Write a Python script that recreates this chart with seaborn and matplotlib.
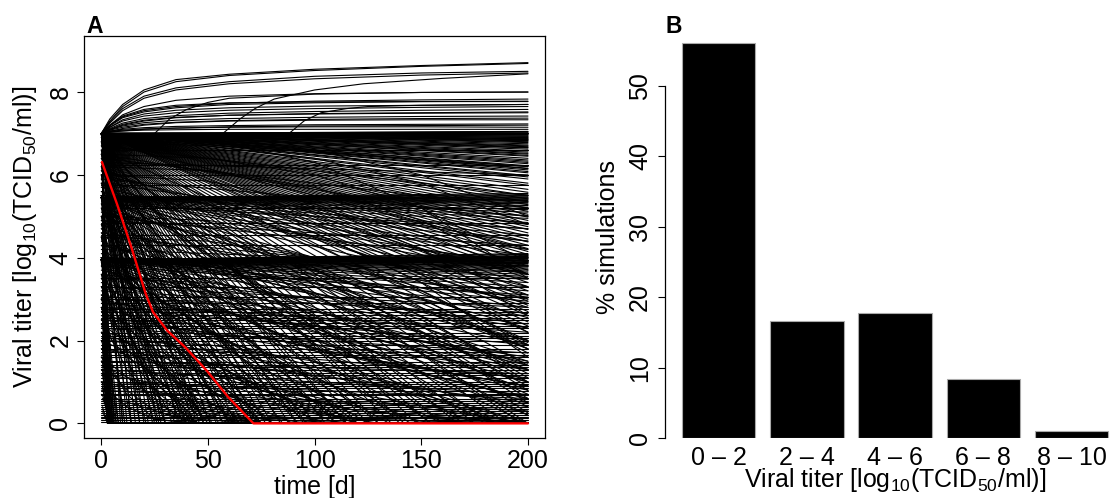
import matplotlib
matplotlib.use('Agg')
import matplotlib.pyplot as plt
import seaborn as sns
import pandas as pd

# ---------------- panel A: simulated titer courses ----------------
# courses that rise above the starting titer of 7, sampled at rise_t
rise_t = [0, 4, 10, 20, 35, 60, 100, 150, 200]
rise_y = [
    [7, 7.35, 7.70, 8.05, 8.30, 8.43, 8.55, 8.64, 8.71],
    [7, 7.30, 7.65, 8.00, 8.25, 8.40, 8.52, 8.62, 8.69],
    [7, 7.28, 7.60, 7.90, 8.10, 8.25, 8.38, 8.46, 8.50],
    [7, 7.25, 7.55, 7.85, 8.05, 8.20, 8.32, 8.41, 8.46],
    [7, 7.20, 7.45, 7.65, 7.80, 7.90, 7.96, 7.99, 8.00],
    [7, 7.20, 7.40, 7.55, 7.65, 7.73, 7.78, 7.81, 7.83],
    [7, 7.18, 7.38, 7.52, 7.62, 7.70, 7.74, 7.77, 7.78],
    [7, 7.20, 7.42, 7.58, 7.68, 7.74, 7.76, 7.77, 7.77],
    [7, 7.15, 7.33, 7.47, 7.56, 7.62, 7.66, 7.68, 7.70],
    [7, 7.15, 7.30, 7.42, 7.50, 7.56, 7.60, 7.63, 7.65],
    [7, 7.12, 7.25, 7.36, 7.43, 7.49, 7.53, 7.56, 7.58],
    [7, 7.08, 7.20, 7.30, 7.38, 7.44, 7.48, 7.50, 7.52],
    [7, 7.10, 7.22, 7.32, 7.39, 7.44, 7.47, 7.49, 7.50],
    [7, 7.10, 7.18, 7.26, 7.32, 7.36, 7.39, 7.41, 7.42],
    [7, 7.08, 7.15, 7.22, 7.27, 7.31, 7.34, 7.36, 7.37],
    [7, 7.05, 7.12, 7.20, 7.26, 7.30, 7.32, 7.33, 7.33],
    [7, 7.06, 7.10, 7.14, 7.17, 7.19, 7.21, 7.22, 7.23],
    [7, 7.03, 7.06, 7.10, 7.13, 7.16, 7.18, 7.19, 7.20],
    [7, 7.05, 7.08, 7.11, 7.13, 7.15, 7.16, 7.16, 7.15],
    [7, 7.04, 7.06, 7.08, 7.09, 7.10, 7.10, 7.10, 7.10],
]
# courses that stay at 7 for a while and then rise
late_rise_t = [
    [0, 25, 32, 40, 50, 60, 100, 150, 200],
    [0, 57, 65, 72, 81, 100, 123, 160, 200],
    [0, 88, 95, 103, 115, 125, 150, 200],
]
late_rise_y = [
    [7, 7.0, 7.35, 7.58, 7.75, 7.85, 7.95, 7.99, 8.00],
    [7, 7.0, 7.35, 7.60, 7.83, 8.05, 8.20, 8.33, 8.44],
    [7, 7.0, 7.30, 7.50, 7.60, 7.65, 7.68, 7.70],
]

# straight courses from a common start titer to the titer at day 200
top_start = 7.0
flat7_end = [7.05, 7.04, 7.03, 7.01, 7.00, 6.99, 6.98, 6.97, 6.96, 6.94, 6.93, 6.91, 6.90,
             6.88, 6.87, 6.85, 6.83, 6.82, 6.80, 6.78, 6.75, 6.72, 6.70, 6.68, 6.66, 6.62,
             6.58, 6.55, 6.52, 6.50, 6.47, 6.40, 6.36, 6.33, 6.30, 6.27, 6.22, 6.20, 6.16,
             6.12, 6.08, 6.05, 5.98]
fan7_end = [6.85, 6.65, 6.45, 6.15, 5.95, 5.90, 5.80, 5.75, 5.65, 5.58, 5.50, 5.42, 5.35, 5.28,
            5.20, 5.12, 5.05, 4.98, 4.90, 4.82, 4.75, 4.68, 4.60, 4.52, 4.45, 4.38, 4.30, 4.22,
            4.15, 4.08, 4.00, 3.90, 3.80, 3.70, 3.60, 3.50, 3.40, 3.30, 3.20, 3.10, 2.95, 2.85,
            2.70, 2.60, 2.45, 2.35, 2.20, 1.95, 1.70, 1.40, 1.10, 0.80, 0.50, 0.25]
# day at which a course starting at 7 reaches 0
fan7_zero = [12, 14, 16, 18, 20, 22, 24, 26, 28, 30, 33, 36, 38, 41, 43, 46, 48, 51, 54, 57,
             60, 63, 66, 70, 73, 77, 80, 84, 88, 92, 96, 100, 105, 110, 115, 120, 125, 130,
             136, 142, 148, 154, 160, 167, 175, 182, 190, 197]

mid_band_start = 5.45
band55_end = [5.55, 5.52, 5.50, 5.47, 5.46, 5.44, 5.42, 5.40, 5.38, 5.36, 5.33, 5.30, 5.26,
              5.22, 5.16, 5.10, 5.02, 4.95, 4.85, 4.70, 4.55, 4.40, 4.20, 4.05, 3.80, 3.60,
              3.10, 2.55, 1.90, 1.30, 0.70]
band55_zero = [10, 18, 27, 37, 48, 60, 75, 92, 110, 130, 155, 180]

low_band_start = 3.95
band4_end = [4.10, 4.08, 4.05, 4.03, 4.02, 4.01, 4.00, 3.99, 3.98, 3.96, 3.95, 3.93, 3.92,
             3.90, 3.89, 3.88, 3.86, 3.85, 3.82, 3.80, 3.78, 3.75, 3.72, 3.68, 3.65, 3.60,
             3.55, 3.48, 3.40, 3.30, 3.20, 3.05, 2.95, 2.80, 2.65, 2.30, 1.90, 1.45, 1.00, 0.50]
band4_zero = [8, 14, 21, 30, 40, 52, 65, 80, 97, 115, 135, 160, 185]

# constant courses
low_flat = [2.75, 2.70, 2.62, 2.55, 2.50, 2.42, 2.35, 2.30, 2.18, 2.12, 2.05, 1.98, 1.90,
            1.80, 1.72, 1.66, 1.60, 1.48, 1.42, 1.35, 1.28, 1.22, 1.16, 1.10, 1.00, 0.95,
            0.90, 0.85, 0.78, 0.72, 0.68, 0.60, 0.55, 0.50, 0.45, 0.40, 0.35, 0.30, 0.25,
            0.20, 0.15, 0.12, 0.08, 0.04]
mid_flat = [6.60, 6.25, 6.00, 5.75, 5.20, 4.85, 4.55, 4.30, 3.50, 3.30, 3.05, 2.90]

# straight courses from other start titers
mid_start = [6.8, 6.6, 6.4, 6.2, 6.0, 5.8, 5.2, 5.0, 4.8, 4.6, 4.4, 3.6, 3.4, 3.2, 3.0, 2.8,
             2.5, 2.2, 6.9, 6.7, 6.5, 6.3, 6.1, 5.9, 5.7, 5.6, 5.3, 5.1, 4.9, 4.7, 4.5, 4.3,
             4.2, 3.8, 3.7, 3.3, 3.1, 2.9, 2.6, 2.3, 2.0, 1.8, 1.5, 1.3, 1.0, 0.8]
mid_end = [4.2, 2.0, 5.2, 0.9, 3.6, 4.4, 2.3, 3.9, 1.5, 3.0, 0.2, 2.4, 1.0, 2.6, 0.6, 1.9,
           1.3, 0.4, 6.2, 5.5, 4.8, 6.0, 2.8, 5.0, 3.3, 1.8, 4.7, 2.9, 4.3, 0.8, 3.5, 2.0,
           3.8, 3.1, 1.4, 2.8, 1.6, 2.2, 0.9, 1.7, 1.1, 0.5, 1.2, 0.7, 0.6, 0.3]
midz_start = [6.7, 6.5, 6.3, 6.0, 5.8, 5.0, 4.7, 4.5, 4.3, 3.5, 3.3, 3.0, 2.7, 2.4, 2.0, 1.6,
              1.2, 6.9, 6.6, 6.4, 6.1, 5.9, 5.6, 5.3, 4.9, 4.6, 4.1, 3.8, 3.1, 2.8, 2.2, 1.8,
              1.4, 1.0, 0.7]
midz_day = [140, 45, 95, 30, 170, 60, 120, 25, 75, 50, 150, 35, 110, 65, 90, 40, 130, 70,
            115, 55, 160, 85, 185, 40, 145, 100, 175, 125, 80, 195, 105, 155, 60, 95, 45]

# courses that are cleared within the first days
fast_start = [7.0, 6.8, 6.5, 6.2, 6.0, 5.8, 5.5, 5.3, 5.0, 4.8, 4.5, 4.2, 4.0, 3.8, 3.5, 3.2,
              3.0, 2.7, 2.4, 2.1, 1.8, 1.5, 1.2, 0.9, 0.6, 0.3, 7.0, 5.5, 4.0, 7.0, 6.9, 6.6,
              6.3, 5.9, 5.6, 5.1, 4.6, 4.3, 3.9, 3.6, 3.3, 2.9, 2.5, 2.2, 1.9, 1.6, 1.3, 1.0,
              0.7, 0.4]
fast_day = [3.0, 3.2, 2.8, 3.5, 4.0, 3.0, 3.3, 5.0, 3.6, 6.0, 3.1, 4.5, 3.4, 7.0, 3.8, 5.5,
            3.2, 4.2, 8.0, 3.5, 5.0, 3.0, 4.0, 3.3, 6.0, 3.0, 9.0, 10.0, 11.0, 14.0, 3.2, 4.0,
            3.0, 5.0, 3.4, 4.0, 3.0, 6.0, 3.5, 4.5, 3.1, 5.5, 3.3, 4.0, 3.0, 7.0, 3.6, 3.2,
            4.5, 3.0]

# curved decays: fast then slow
up_t = [0, 5, 12, 25, 45, 75, 120, 200]
up_y = [
    [7.0, 5.9, 4.8, 3.6, 2.4, 1.2, 0.0, 0.0],
    [7.0, 6.2, 5.3, 4.2, 3.0, 1.8, 0.6, 0.0],
    [7.0, 5.4, 3.9, 2.5, 1.2, 0.0, 0.0, 0.0],
    [5.5, 4.5, 3.5, 2.4, 1.3, 0.2, 0.0, 0.0],
    [5.5, 4.8, 4.0, 3.1, 2.2, 1.3, 0.4, 0.0],
    [4.0, 3.2, 2.4, 1.5, 0.6, 0.0, 0.0, 0.0],
    [4.0, 3.5, 2.9, 2.2, 1.5, 0.8, 0.1, 0.0],
    [7.0, 6.5, 5.9, 5.1, 4.2, 3.3, 2.4, 1.3],
    [7.0, 6.0, 5.0, 4.0, 3.1, 2.3, 1.6, 0.9],
    [5.5, 5.0, 4.5, 3.9, 3.3, 2.7, 2.1, 1.3],
    [6.2, 4.8, 3.5, 2.2, 1.0, 0.0, 0.0, 0.0],
    [3.0, 2.4, 1.8, 1.1, 0.4, 0.0, 0.0, 0.0],
    [7.0, 5.0, 3.2, 1.6, 0.3, 0.0, 0.0, 0.0],
    [5.5, 4.2, 2.9, 1.6, 0.4, 0.0, 0.0, 0.0],
    [4.0, 3.0, 2.0, 1.0, 0.1, 0.0, 0.0, 0.0],
    [6.8, 5.0, 3.4, 1.8, 0.5, 0.0, 0.0, 0.0],
    [6.5, 5.3, 4.1, 2.9, 1.8, 0.7, 0.0, 0.0],
    [6.0, 4.4, 2.9, 1.5, 0.2, 0.0, 0.0, 0.0],
    [5.8, 5.0, 4.2, 3.3, 2.4, 1.5, 0.7, 0.0],
    [5.0, 3.6, 2.3, 1.0, 0.0, 0.0, 0.0, 0.0],
    [4.8, 4.0, 3.2, 2.4, 1.6, 0.9, 0.3, 0.0],
    [4.5, 3.3, 2.2, 1.1, 0.2, 0.0, 0.0, 0.0],
    [3.6, 2.6, 1.7, 0.8, 0.0, 0.0, 0.0, 0.0],
    [3.3, 2.8, 2.3, 1.8, 1.3, 0.8, 0.3, 0.0],
    [2.8, 2.0, 1.3, 0.5, 0.0, 0.0, 0.0, 0.0],
    [2.4, 2.0, 1.6, 1.2, 0.8, 0.4, 0.1, 0.0],
    [2.0, 1.3, 0.7, 0.1, 0.0, 0.0, 0.0, 0.0],
    [7.0, 6.3, 5.5, 4.6, 3.6, 2.6, 1.6, 0.6],
    [7.0, 5.7, 4.4, 3.1, 1.9, 0.8, 0.0, 0.0],
    [7.0, 6.6, 6.1, 5.5, 4.8, 4.0, 3.1, 2.0],
    [5.5, 4.6, 3.7, 2.8, 1.9, 1.0, 0.2, 0.0],
    [5.5, 5.1, 4.7, 4.2, 3.6, 3.0, 2.3, 1.5],
    [4.0, 3.7, 3.4, 3.0, 2.6, 2.1, 1.6, 0.9],
    [6.3, 5.6, 4.9, 4.1, 3.3, 2.5, 1.7, 0.8],
    [5.2, 4.1, 3.1, 2.0, 1.0, 0.1, 0.0, 0.0],
    [1.6, 1.2, 0.8, 0.3, 0.0, 0.0, 0.0, 0.0],
    [1.0, 0.7, 0.4, 0.1, 0.0, 0.0, 0.0, 0.0],
    [3.9, 2.7, 1.5, 0.4, 0.0, 0.0, 0.0, 0.0],
    [6.6, 4.6, 2.8, 1.2, 0.0, 0.0, 0.0, 0.0],
    [7.0, 4.3, 2.3, 0.7, 0.0, 0.0, 0.0, 0.0],
]
# curved decays: slow then fast
down_t = [0, 50, 100, 150, 200]
down_y = [
    [4.0, 3.95, 3.7, 3.0, 1.8],
    [4.0, 3.90, 3.5, 2.6, 1.0],
    [5.5, 5.40, 5.0, 4.2, 3.0],
    [4.0, 3.80, 3.1, 1.7, 0.0],
    [3.0, 2.90, 2.5, 1.7, 0.4],
    [7.0, 6.85, 6.3, 5.2, 3.5],
    [2.5, 2.40, 2.0, 1.2, 0.0],
    [5.5, 5.30, 4.6, 3.4, 1.6],
    [6.0, 5.85, 5.3, 4.2, 2.6],
    [2.0, 1.90, 1.5, 0.8, 0.0],
    [7.0, 6.90, 6.6, 6.0, 5.0],
    [4.0, 3.85, 3.3, 2.2, 0.6],
    [1.5, 1.45, 1.2, 0.7, 0.0],
    [3.5, 3.40, 3.0, 2.2, 1.0],
    [6.5, 6.40, 6.0, 5.2, 3.9],
    [5.0, 4.90, 4.5, 3.6, 2.2],
    [4.5, 4.40, 4.0, 3.2, 1.9],
    [3.0, 2.95, 2.7, 2.2, 1.4],
    [6.8, 6.70, 6.4, 5.8, 4.8],
    [5.5, 5.45, 5.2, 4.6, 3.6],
    [4.0, 3.90, 3.6, 2.9, 1.8],
    [2.8, 2.70, 2.3, 1.5, 0.2],
    [6.2, 6.10, 5.7, 4.9, 3.6],
    [3.9, 3.80, 3.4, 2.5, 1.2],
]

# highlighted course (red)
red_t = [0.3, 7.4, 14.1, 20.8, 24.2, 30.9, 39.3, 49.3, 59.4, 71.3, 200]
red_y = [6.31, 5.29, 4.25, 3.13, 2.69, 2.24, 1.84, 1.28, 0.64, 0.0, 0.0]

# ---------------- panel B ----------------
titer_bins = ['0 \u2013 2', '2 \u2013 4', '4 \u2013 6', '6 \u2013 8', '8 \u2013 10']
pct_sims = [56.1, 16.7, 17.8, 8.4, 1.0]

# ---------------- long table of courses ----------------
rows = []
n_sim = [0]


def add_course(ts, ys):
    for t, y in zip(ts, ys):
        rows.append((n_sim[0], t, y))
    n_sim[0] += 1


for ys in rise_y:
    add_course(rise_t, ys)
for ts, ys in zip(late_rise_t, late_rise_y):
    add_course(ts, ys)
for y1 in flat7_end + fan7_end:
    add_course([0, 200], [top_start, y1])
for d in fan7_zero:
    add_course([0, d, 200], [top_start, 0, 0])
for y1 in band55_end:
    add_course([0, 200], [mid_band_start, y1])
for d in band55_zero:
    add_course([0, d, 200], [mid_band_start, 0, 0])
for y1 in band4_end:
    add_course([0, 200], [low_band_start, y1])
for d in band4_zero:
    add_course([0, d, 200], [low_band_start, 0, 0])
for y in low_flat + mid_flat:
    add_course([0, 200], [y, y])
for y0, y1 in zip(mid_start, mid_end):
    add_course([0, 200], [y0, y1])
for y0, d in zip(midz_start, midz_day):
    add_course([0, d, 200], [y0, 0, 0])
for y0, d in zip(fast_start, fast_day):
    add_course([0.5, d, 200], [y0, 0, 0])
for ys in up_y:
    add_course(up_t, ys)
for ys in down_y:
    add_course(down_t, ys)

traj = pd.DataFrame(rows, columns=['sim', 'day', 'titer'])

# ---------------- style ----------------
sns.set_theme(style='ticks')
plt.rcParams['font.family'] = ['Liberation Sans', 'DejaVu Sans']
plt.rcParams['mathtext.fontset'] = 'custom'
plt.rcParams['mathtext.rm'] = 'Liberation Sans'
plt.rcParams['mathtext.it'] = 'Liberation Sans'
plt.rcParams['text.color'] = 'black'
plt.rcParams['axes.labelcolor'] = 'black'
plt.rcParams['xtick.color'] = 'black'
plt.rcParams['ytick.color'] = 'black'
fs = 18

fig = plt.figure(figsize=(11.13, 4.98), dpi=100)
axA = fig.add_axes([0.0757, 0.1199, 0.4140, 0.8084])
axB = fig.add_axes([0.5971, 0.1199, 0.4142, 0.8084])

# panel A
sns.lineplot(data=traj, x='day', y='titer', units='sim', estimator=None, sort=False,
             color='black', linewidth=0.8, legend=False, ax=axA)
sns.lineplot(x=red_t, y=red_y, color='#ff0000', linewidth=1.7, sort=False, ax=axA)
axA.set_xlim(-8, 208)
axA.set_ylim(-0.36, 9.36)
axA.set_xticks([0, 50, 100, 150, 200])
axA.set_yticks([0, 2, 4, 6, 8])
for s in axA.spines.values():
    s.set_color('black')
    s.set_linewidth(0.9)
axA.tick_params(axis='both', direction='out', length=5, width=0.8, color='black',
                labelsize=fs, labelcolor='black')
axA.tick_params(axis='x', pad=2.5)
axA.tick_params(axis='y', pad=3.5, labelrotation=90)
for lab in axA.get_yticklabels():
    lab.set_va('center')
axA.set_xlabel('time [d]', fontsize=fs, va='center')
axA.xaxis.set_label_coords(0.5, -0.12)
axA.set_ylabel(r'Viral titer [log$_{\mathregular{10}}$(TCID$_{\mathregular{50}}$/ml)]',
               fontsize=fs, va='center')
axA.yaxis.set_label_coords(-0.1287, 0.5)

# panel B
sns.barplot(x=titer_bins, y=pct_sims, color='black', saturation=1, width=0.833,
            edgecolor='#aaaaaa', linewidth=0.8, ax=axB)
axB.set_xlim(-0.61, 4.61)
axB.set_ylim(0, 57.09)
axB.set_yticks([0, 10, 20, 30, 40, 50])
sns.despine(ax=axB, top=True, right=True, bottom=True)
axB.spines['left'].set_bounds(0, 50)
axB.spines['left'].set_color('black')
axB.spines['left'].set_linewidth(0.9)
axB.tick_params(axis='y', direction='out', length=5, width=0.8, color='black',
                labelsize=fs, labelcolor='black', pad=4, labelrotation=90)
for lab in axB.get_yticklabels():
    lab.set_va('center')
axB.tick_params(axis='x', length=0, labelsize=fs, labelcolor='black', pad=5.5)
axB.set_xlabel(r'Viral titer [log$_{\mathregular{10}}$(TCID$_{\mathregular{50}}$/ml)]',
               fontsize=fs, va='center')
axB.xaxis.set_label_coords(0.5, -0.104)
axB.set_ylabel('% simulations', fontsize=fs, va='center')
axB.yaxis.set_label_coords(-0.1228, 0.5)

fig.text(86 / 1113, 1 - 33 / 498, 'A', fontsize=16.5, fontweight='bold', va='baseline')
fig.text(665.7 / 1113, 1 - 33.3 / 498, 'B', fontsize=16.5, fontweight='bold', va='baseline')

fig.savefig('out.png', dpi=100)
